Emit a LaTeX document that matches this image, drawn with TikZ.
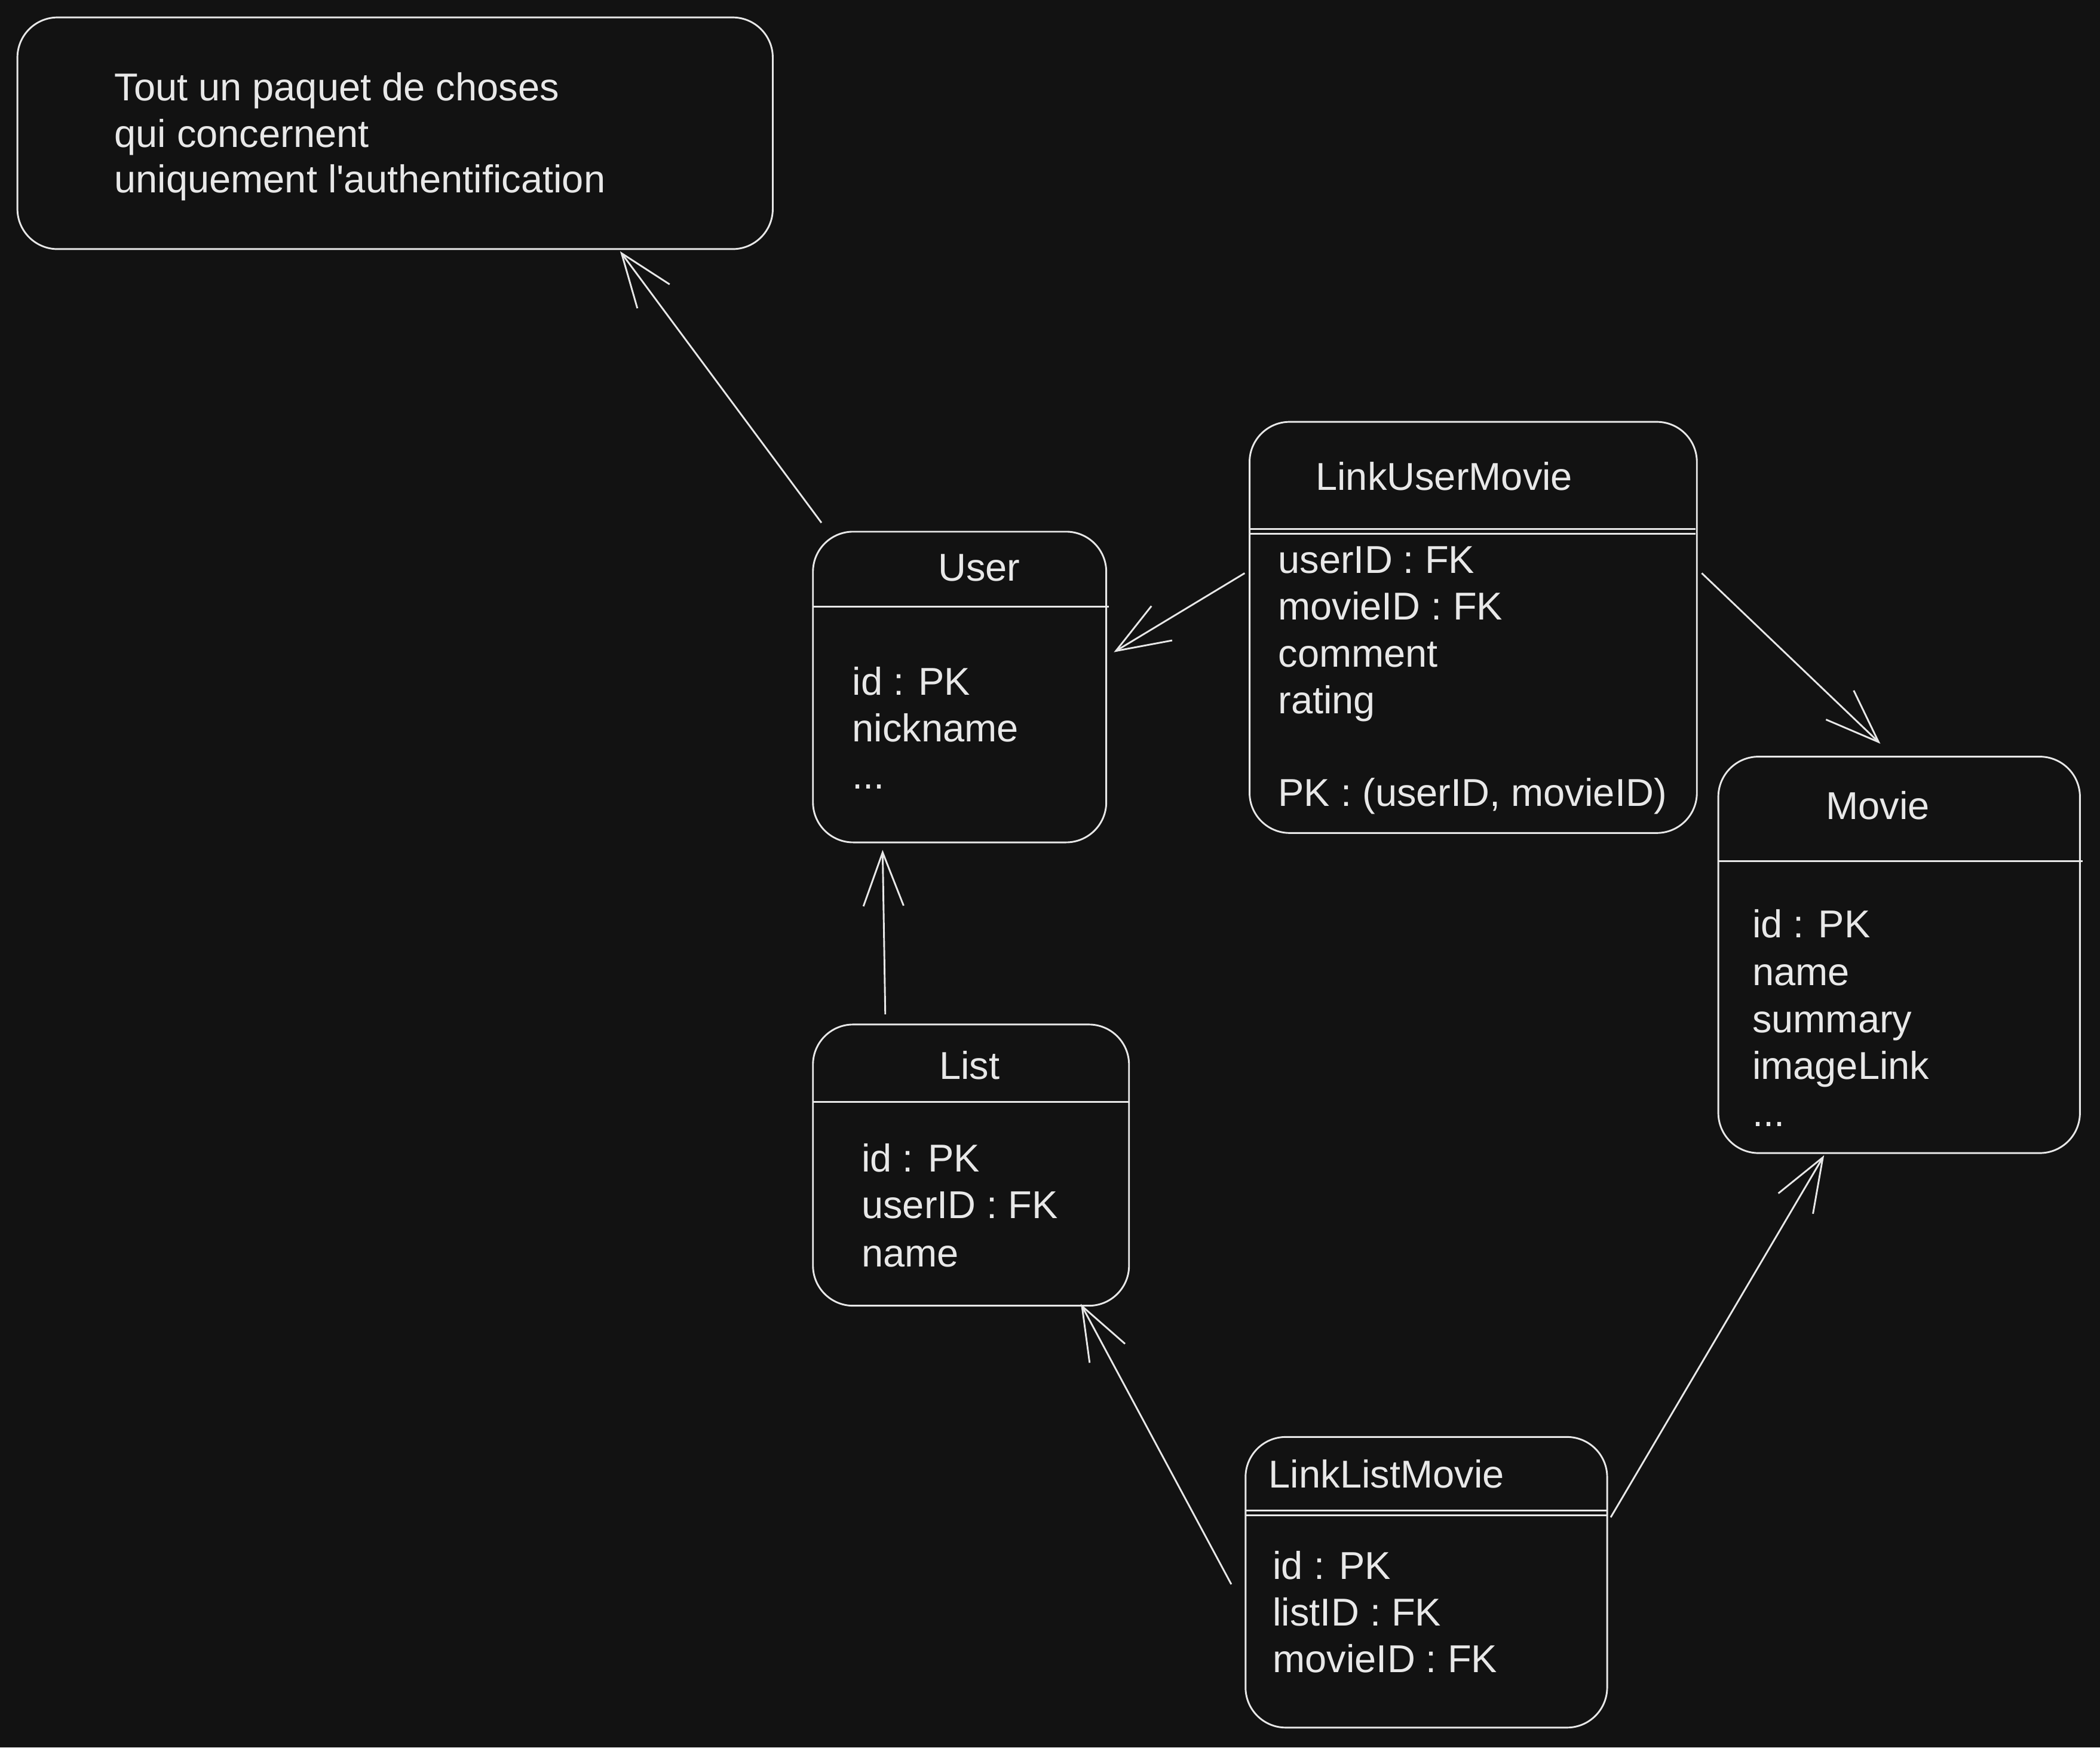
\documentclass[tikz,border=0pt]{standalone}
\usepackage{fontspec}
\setmainfont{Liberation Sans}[Ligatures=TeXOff]
\usetikzlibrary{arrows.meta}
\definecolor{bg}{HTML}{121212}
\definecolor{fg}{HTML}{E8E8E8}
\begin{document}
\begin{tikzpicture}[x=0.5pt,y=-0.5pt,
  box/.style={draw=fg, line width=0.65pt, rounded corners=15pt, inner sep=0pt},
  txt/.style={text=fg, font=\fontsize{14.5}{17.5}\selectfont, anchor=base west, inner sep=0pt},
  hdr/.style={draw=fg, line width=0.65pt},
  arr/.style={draw=fg, line width=0.65pt, -{Straight Barb[length=20pt,width=15pt,line width=0.65pt]}}]
\fill[bg] (0,0) rectangle (1568,1305);
\useasboundingbox (0,0) rectangle (1568,1305);

% note box
\node[box, minimum width=282pt, minimum height=86.5pt] (note) at (295,99.5) {};
\node[txt] (n1) at (85,75) {Tout un paquet de choses};
\node[txt] (n2) at (85,110) {qui concernent};
\node[txt] (n3) at (85,144) {uniquement l'authentification};

% User
\node[box, minimum width=109.5pt, minimum height=116pt] (user) at (716.5,513) {};
\draw[hdr] (607,453) -- (828,453);
\node[txt] (ut) at (700,434) {User};
\node[txt] (u1) at (636,519) {id : PK};
\node[txt] (u2) at (636,554) {nickname};
\node[txt] (u3) at (636,589) {...};

% LinkUserMovie
\node[box, minimum width=167pt, minimum height=153.5pt] (lum) at (1100,468.5) {};
\draw[hdr] (933,395) -- (1266,395);
\draw[hdr] (933,398.5) -- (1266,398.5);
\node[txt] (lt) at (982,366) {LinkUserMovie};
\node[txt] (l1) at (954,428) {userID : FK};
\node[txt] (l2) at (954,463) {movieID : FK};
\node[txt] (l3) at (954,498) {comment};
\node[txt] (l4) at (954,533) {rating};
\node[txt] (l5) at (954,602) {PK : (userID, movieID)};

% Movie
\node[box, minimum width=135pt, minimum height=148pt] (movie) at (1418,713) {};
\draw[hdr] (1283,643) -- (1555,643);
\node[txt] (mt) at (1363,612) {Movie};
\node[txt] (m1) at (1308,700) {id : PK};
\node[txt] (m2) at (1308,736) {name};
\node[txt] (m3) at (1308,771) {summary};
\node[txt] (m4) at (1308,806) {imageLink};
\node[txt] (m5) at (1308,841) {...};

% List
\node[box, minimum width=118pt, minimum height=105pt] (list) at (725,870) {};
\draw[hdr] (607,823) -- (843,823);
\node[txt] (lit) at (701,806) {List};
\node[txt] (li1) at (643,875) {id : PK};
\node[txt] (li2) at (643,910) {userID : FK};
\node[txt] (li3) at (643,946) {name};

% LinkListMovie
\node[box, minimum width=135pt, minimum height=108.5pt] (llm) at (1065,1181.5) {};
\draw[hdr] (930,1128) -- (1200,1128);
\draw[hdr] (930,1131.5) -- (1200,1131.5);
\node[txt] (llt) at (947,1111) {LinkListMovie};
\node[txt] (ll1) at (950,1179) {id : PK};
\node[txt] (ll2) at (950,1214) {listID : FK};
\node[txt] (ll3) at (950,1249) {movieID : FK};

% connectors
\draw[arr] ([shift={(7,-6)}]user.north west) -- ([shift={(168,1)}]note.south);
\draw[arr] ([shift={(-64,-7)}]list.north) -- ([shift={(-57.5,5)}]user.south);
\draw[arr] ([shift={(-3,-40.5)}]lum.west) -- ([shift={(5,-26)}]user.east);
\draw[arr] ([shift={(3,-40.5)}]lum.east) -- ([shift={(-14,-9)}]movie.north);
\draw[arr] ([shift={(-10,1.5)}]llm.west) -- ([shift={(82,-2)}]list.south);
\draw[arr] ([shift={(2,-48.5)}]llm.east) -- ([shift={(-56,1)}]movie.south);
\end{tikzpicture}
\end{document}
